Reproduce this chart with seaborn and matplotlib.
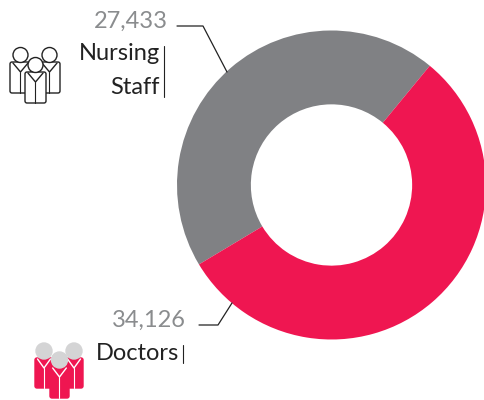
import matplotlib
matplotlib.use('Agg')
import seaborn as sns
import matplotlib.pyplot as plt
from matplotlib.patches import Circle, FancyBboxPatch

categories = ['Nursing Staff', 'Doctors']
staff_counts = [27433, 34126]
count_labels = ['27,433', '34,126']
colors = ['#808184', '#EF1651']

sns.set_theme(style='white')
plt.rcParams['font.family'] = ['Lato', 'DejaVu Sans']

fig = plt.figure(figsize=(4.85, 4.0), dpi=100)

# donut, runs off the right edge a little
pie_ax = fig.add_axes([177 / 485, (400 - 340.5) / 400, 309 / 485, 311 / 400])
pie_ax.pie(staff_counts, colors=colors, startangle=50.5, counterclock=True,
           radius=1, wedgeprops={'width': 0.478, 'linewidth': 0})
pie_ax.set_xlim(-1, 1)
pie_ax.set_ylim(-1, 1)

# overlay in pixel coordinates for the labels and icons
ax = fig.add_axes([0, 0, 1, 1])
ax.set_xlim(0, 485)
ax.set_ylim(400, 0)
ax.axis('off')
ax.patch.set_alpha(0)


def person(x, y, w, h, head_r, body, edge, head, head_edge, lapel):
    ax.add_patch(FancyBboxPatch((x + 2, y + 2), w - 4, h - 4,
                                boxstyle='round,pad=2', fc=body, ec=edge, lw=1))
    cx = x + w / 2
    ax.plot([cx - w * 0.36, cx, cx + w * 0.36], [y + 1, y + 10, y + 1], color=lapel, lw=1)
    ax.plot([cx, cx], [y + 10, y + h], color=lapel, lw=0.8)
    ax.add_patch(Circle((cx, y - 7), head_r, fc=head, ec=head_edge, lw=1, zorder=3))


# nursing staff icon, back two first
person(10, 62, 21, 31, 7.5, 'white', '#222222', 'white', '#222222', '#222222')
person(39, 62, 21, 31, 7.5, 'white', '#222222', 'white', '#222222', '#222222')
person(25, 72, 21, 31, 7.5, 'white', '#222222', 'white', '#222222', '#222222')

# doctors icon
person(35, 358, 18, 30, 8, colors[1], colors[1], '#D4D4D5', '#D4D4D5', 'white')
person(65, 358, 18, 30, 8, colors[1], colors[1], '#D4D4D5', '#D4D4D5', 'white')
person(50, 367, 19, 31, 8, colors[1], colors[1], '#D4D4D5', '#D4D4D5', 'white')

# numbers and leader lines
ax.text(168, 21, count_labels[0], color='#8A8C8E', fontsize=17, ha='right', va='center')
ax.text(186, 320, count_labels[1], color='#8A8C8E', fontsize=17, ha='right', va='center')
ax.plot([177, 203, 227], [26, 26, 72], color='#222222', lw=0.9)
ax.plot([199, 218, 232], [325, 325, 303], color='#222222', lw=0.9)

# category names with the thin rule beside them
ax.text(160, 54, 'Nursing', color='#222222', fontsize=17, ha='right', va='center')
ax.text(160, 88, 'Staff', color='#222222', fontsize=17, ha='right', va='center')
ax.plot([164.5, 164.5], [46, 97], color='#222222', lw=0.8)
ax.text(96, 353, 'Doctors', color='#222222', fontsize=17, ha='left', va='center')
ax.plot([183, 183], [345, 363], color='#222222', lw=0.8)

fig.savefig('out.png', dpi=100)
